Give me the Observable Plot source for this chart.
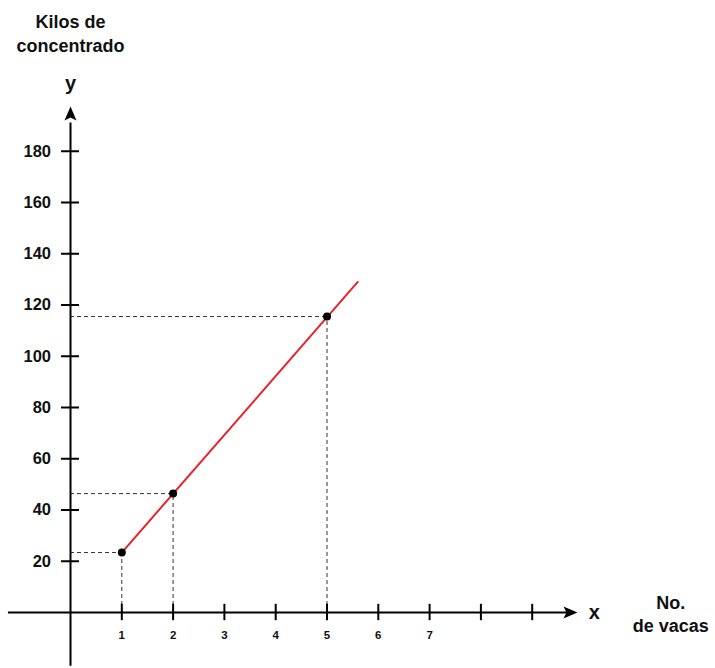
<!DOCTYPE html>
<html>
<head>
<meta charset="utf-8">
<script src="https://cdn.jsdelivr.net/npm/d3@7"></script>
<script src="https://cdn.jsdelivr.net/npm/@observablehq/plot@0.6"></script>
<style>
  html, body { margin: 0; padding: 0; background: #fff; }
  #chart svg { display: block; }
</style>
</head>
<body>
<div id="chart"></div>
<script>
// Data
const cows = [1, 2, 5];
const kilos = [23.4, 46.4, 115.5];
const lineCows = [1, 5.6];
const lineKilos = [23.4, 129];
const xTicks = [1, 2, 3, 4, 5, 6, 7, 8, 9];
const xTickLabels = ["1", "2", "3", "4", "5", "6", "7", "", ""];
const yTicks = [20, 40, 60, 80, 100, 120, 140, 160, 180];
const yTickLabels = ["20", "40", "60", "80", "100", "120", "140", "160", "180"];

const points = cows.map((c, i) => ({x: c, y: kilos[i]}));
const lineData = lineCows.map((c, i) => ({x: c, y: lineKilos[i]}));
const xt = xTicks.map((v, i) => ({v, label: xTickLabels[i]}));
const yt = yTicks.map((v, i) => ({v, label: yTickLabels[i]}));

const font = "'Liberation Sans', Arial, Helvetica, sans-serif";

// notched filled arrowhead shape for Plot.vector
const arrowHead = {
  draw(context, l) {
    context.moveTo(0, -l);
    context.lineTo(6, 0);
    context.lineTo(0, -3);
    context.lineTo(-6, 0);
    context.closePath();
  }
};

const chart = Plot.plot({
  width: 715,
  height: 668,
  margin: 0,
  style: {fontFamily: font, background: "white"},
  x: {domain: [0, 10], range: [70, 583], axis: null},
  y: {domain: [0, 200], range: [612, 99.5], axis: null},
  marks: [
    // dashed guide lines
    Plot.ruleY(points, {y: "y", x1: 0, x2: "x", stroke: "#333", strokeWidth: 1, strokeDasharray: "4,3"}),
    Plot.ruleX(points, {x: "x", y1: 0, y2: "y", stroke: "#333", strokeWidth: 1, strokeDasharray: "4,3"}),
    // axes lines
    Plot.ruleY([0], {x1: -1.21, x2: 9.7, stroke: "black", strokeWidth: 2}),
    Plot.ruleX([0], {y1: -21, y2: 191, stroke: "black", strokeWidth: 2}),
    // arrowheads
    Plot.vector([{x: 9.61, y: 0}], {x: "x", y: "y", length: 14, rotate: 90, anchor: "start", shape: arrowHead, fill: "black", stroke: "none"}),
    Plot.vector([{x: 0, y: 192}], {x: "x", y: "y", length: 14, rotate: 0, anchor: "start", shape: arrowHead, fill: "black", stroke: "none"}),
    // ticks
    Plot.ruleX(xt, {x: "v", y1: -3.2, y2: 3.2, stroke: "black", strokeWidth: 2}),
    Plot.ruleY(yt, {y: "v", x1: -0.175, x2: 0.175, stroke: "black", strokeWidth: 2}),
    // tick labels
    Plot.text(xt, {x: "v", y: -9, text: "label", fontSize: 11.5, fontWeight: "bold", fill: "#111"}),
    Plot.text(yt, {y: "v", x: -0.38, text: "label", textAnchor: "end", fontSize: 16.5, fontWeight: "bold", fill: "#111"}),
    // red line
    Plot.line(lineData, {x: "x", y: "y", stroke: "#e8232a", strokeWidth: 2}),
    // points
    Plot.dot(points, {x: "x", y: "y", r: 4, fill: "black", stroke: "none"}),
    // axis labels
    Plot.text(["y"], {x: 0, y: 206.4, text: d => d, fontSize: 20, fontWeight: "bold", fill: "#111"}),
    Plot.text(["x"], {x: 10.21, y: 0, text: d => d, fontSize: 20, fontWeight: "bold", fill: "#111"}),
    Plot.text(["Kilos de"], {x: 0, y: 230.5, text: d => d, fontSize: 18, fontWeight: "bold", fill: "#111"}),
    Plot.text(["concentrado"], {x: 0, y: 220.9, text: d => d, fontSize: 18, fontWeight: "bold", fill: "#111"}),
    Plot.text(["No."], {x: 11.7, y: 3.5, text: d => d, fontSize: 18, fontWeight: "bold", fill: "#111"}),
    Plot.text(["de vacas"], {x: 11.7, y: -5.5, text: d => d, fontSize: 18, fontWeight: "bold", fill: "#111"})
  ]
});
document.getElementById("chart").append(chart);
</script>
</body>
</html>
